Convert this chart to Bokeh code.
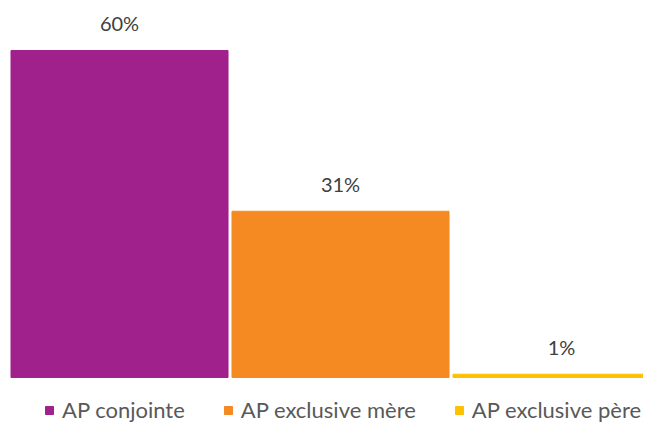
from bokeh.plotting import figure
from bokeh.models import Range1d, ColumnDataSource, Legend, LegendItem
from bokeh.core.properties import value
from bokeh.embed import file_html
from bokeh.resources import INLINE

categories = ["AP conjointe", "AP exclusive mère", "AP exclusive père"]
values = [60, 30.5, 0.6]
labels = ["60%", "31%", "1%"]
colors = ["#A0218C", "#F58A22", "#FFC000"]

xs = [i + 0.5 for i in range(len(categories))]
src = ColumnDataSource(dict(x=xs, top=values, label=labels, color=colors, cat=categories))

p = figure(width=643, height=423, output_backend="svg", toolbar_location=None,
           x_range=Range1d(-0.0385, 2.871), y_range=Range1d(-8.44, 69.17),
           min_border_left=0, min_border_right=0, min_border_top=0, min_border_bottom=0)
p.xaxis.visible = False
p.yaxis.visible = False
p.xgrid.visible = False
p.ygrid.visible = False
p.outline_line_color = None
p.background_fill_color = "white"
p.border_fill_color = "white"

r = p.vbar(x="x", top="top", bottom=0, width=0.982, color="color", source=src)
p.text(x="x", y="top", text="label", source=src, text_align="center",
       text_baseline="middle", y_offset=-27, text_font_size="20px",
       text_color="#404040", text_font=value("Lato"))

items = [LegendItem(label=c, renderers=[r], index=i) for i, c in enumerate(categories)]
legend = Legend(items=items, orientation="horizontal", location=(44, 0),
                label_text_font="Lato", label_text_font_size="22px",
                label_text_color="#595959", glyph_width=10, glyph_height=10,
                spacing=38, padding=0, margin=0, border_line_color=None,
                background_fill_alpha=0, label_standoff=8)
p.add_layout(legend, "center")

open("out.html", "w").write(file_html(p, INLINE))
